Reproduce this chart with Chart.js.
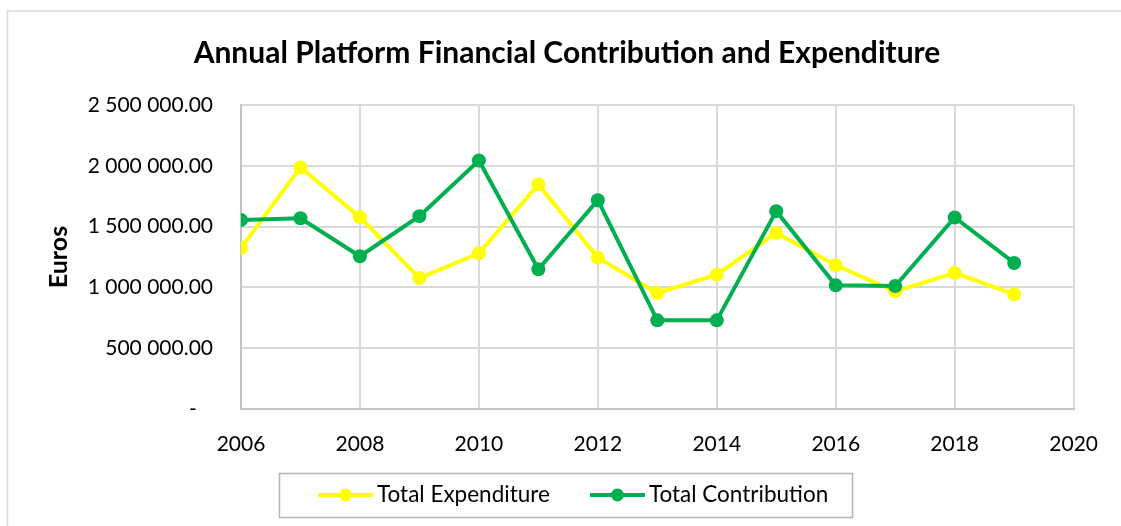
<!DOCTYPE html>
<html>
<head>
<meta charset="utf-8">
<script src="https://cdn.jsdelivr.net/npm/chart.js@4.4.1/dist/chart.umd.min.js"></script>
<style>
  html, body { margin: 0; padding: 0; background: #fff; }
  #wrap { width: 1121px; height: 526px; position: relative; }
</style>
</head>
<body>
<div id="wrap"><canvas id="financeChart"></canvas></div>
<script>
// values (euros)
const years = [2006, 2007, 2008, 2009, 2010, 2011, 2012, 2013, 2014, 2015, 2016, 2017, 2018, 2019];
const totalExpenditure = [1325000, 1987000, 1577000, 1077000, 1281000, 1847000, 1245000, 954000,
                          1105000, 1448000, 1182000, 968000, 1119000, 943000];
const totalContribution = [1555000, 1569000, 1256000, 1586000, 2044000, 1149000, 1717000, 729000,
                           729000, 1627000, 1017000, 1012000, 1575000, 1201000];
const seriesNames = ['Total Expenditure', 'Total Contribution'];
const seriesColors = ['#FFFF00', '#00B050'];
const yTicks = [0, 500000, 1000000, 1500000, 2000000, 2500000];
const xTicks = [2006, 2008, 2010, 2012, 2014, 2016, 2018, 2020];

const FONT = 'Lato, "Open Sans", sans-serif';

function toPoints(values) {
    return years.map((y, i) => ({ x: y, y: values[i] }));
}

// "2 500 000.00" style, zero shown as a dash
function formatEuro(value) {
    if (value === 0) return '-   ';
    const parts = value.toFixed(2).split('.');
    return parts[0].replace(/\B(?=(\d{3})+(?!\d))/g, ' ') + '.' + parts[1];
}

// little line-with-dot icon for the legend
function legendIcon(color) {
    const c = document.createElement('canvas');
    c.width = 55;
    c.height = 16;
    const g = c.getContext('2d');
    g.strokeStyle = color;
    g.lineWidth = 4;
    g.beginPath();
    g.moveTo(0, 8);
    g.lineTo(55, 8);
    g.stroke();
    g.fillStyle = color;
    g.beginPath();
    g.arc(27.5, 8, 6.5, 0, Math.PI * 2);
    g.fill();
    return c;
}

const framePlugin = {
    id: 'frame',
    afterLayout(chart) {
        // centre the title like the original and place the legend row
        const t = chart.titleBlock;
        t.left = 0;
        t.right = 1134;
        const lg = chart.legend;
        const pad = lg.options.labels.padding;
        const fontSize = lg.options.labels.font.size;
        const x0 = 325.25;
        lg.right = 1110;
        lg.left = 2 * x0 - pad - lg.right + lg.lineWidths[0];
        lg.top = 495 - fontSize / 2 - pad;
        lg.bottom = lg.top + 2 * pad + fontSize + 10;
        lg.width = lg.right - lg.left;
        lg.height = lg.bottom - lg.top;
    },
    beforeDraw(chart) {
        const ctx = chart.ctx;
        ctx.save();
        ctx.strokeStyle = '#d9d9d9';
        ctx.lineWidth = 1.5;
        ctx.strokeRect(7.5, 11, 1130, 540);
        ctx.restore();
    },
    afterDraw(chart) {
        const ctx = chart.ctx;
        ctx.save();
        ctx.strokeStyle = '#b4b4b4';
        ctx.lineWidth = 1.5;
        ctx.strokeRect(279.5, 473.5, 573, 44);
        ctx.restore();
    }
};

const ctx = document.getElementById('financeChart').getContext('2d');
new Chart(ctx, {
    type: 'line',
    data: {
        datasets: [{
            label: seriesNames[0],
            data: toPoints(totalExpenditure),
            borderColor: seriesColors[0],
            backgroundColor: seriesColors[0],
            pointBackgroundColor: seriesColors[0],
            order: 1
        }, {
            label: seriesNames[1],
            data: toPoints(totalContribution),
            borderColor: seriesColors[1],
            backgroundColor: seriesColors[1],
            pointBackgroundColor: seriesColors[1],
            order: 0
        }]
    },
    options: {
        responsive: true,
        maintainAspectRatio: false,
        animation: false,
        layout: { padding: { left: 0, right: 47, top: 0, bottom: 0 } },
        elements: {
            line: { borderWidth: 4, tension: 0 },
            point: { radius: 7, borderWidth: 0, hoverRadius: 7 }
        },
        plugins: {
            tooltip: { enabled: false },
            title: {
                display: true,
                text: 'Annual Platform Financial Contribution and Expenditure',
                color: '#000',
                font: { family: FONT, size: 30, weight: 'bold' },
                padding: { top: 35, bottom: 34 }
            },
            legend: {
                position: 'bottom',
                maxHeight: 40,
                labels: {
                    color: '#000',
                    font: { family: FONT, size: 22.5 },
                    usePointStyle: true,
                    pointStyleWidth: 40.5,
                    padding: 47.25,
                    sort: (a, b) => a.datasetIndex - b.datasetIndex,
                    generateLabels(chart) {
                        const items = Chart.defaults.plugins.legend.labels.generateLabels(chart);
                        items.forEach(item => {
                            item.pointStyle = legendIcon(seriesColors[item.datasetIndex]);
                        });
                        return items;
                    }
                }
            }
        },
        scales: {
            x: {
                type: 'linear',
                min: 2006,
                max: 2020,
                afterBuildTicks(scale) {
                    scale.ticks = xTicks.map(v => ({ value: v }));
                },
                afterFit(scale) {
                    scale.height = 526 - 409 - scale.chart.legend.height;
                },
                ticks: {
                    color: '#000',
                    font: { family: FONT, size: 21 },
                    padding: 23,
                    maxRotation: 0,
                    callback: v => String(v)
                },
                grid: { color: '#d9d9d9', lineWidth: 2, drawTicks: false },
                border: { color: '#c4c4c4', width: 2 }
            },
            y: {
                min: 0,
                max: 2500000,
                afterBuildTicks(scale) {
                    scale.ticks = yTicks.map(v => ({ value: v }));
                },
                afterFit(scale) {
                    scale.width = 241;
                },
                ticks: {
                    color: '#000',
                    font: { family: FONT, size: 21 },
                    padding: 28,
                    callback: v => formatEuro(v)
                },
                title: {
                    display: true,
                    text: 'Euros',
                    color: '#000',
                    font: { family: FONT, size: 25, weight: 'bold' },
                    padding: { top: 44, bottom: 0 }
                },
                grid: { color: '#d9d9d9', lineWidth: 2, drawTicks: false },
                border: { color: '#c4c4c4', width: 2 }
            }
        }
    },
    plugins: [framePlugin]
});
</script>
</body>
</html>
